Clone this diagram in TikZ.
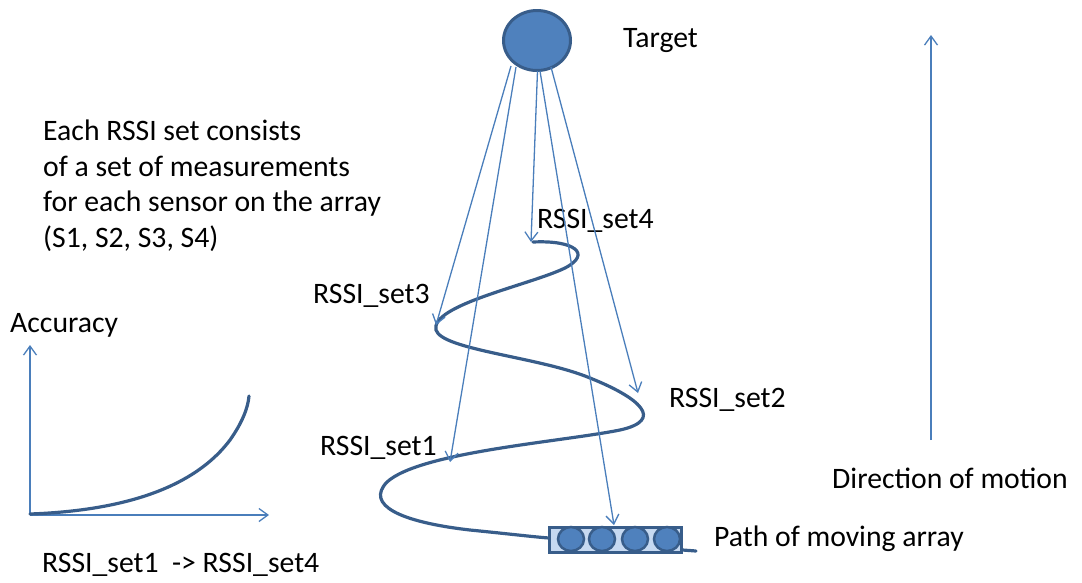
\documentclass[tikz,border=0pt]{standalone}
\usepackage{fontspec}
\setmainfont{Carlito}
\usetikzlibrary{arrows.meta,shapes.geometric}
\definecolor{lblue}{HTML}{4A7EBB}
\definecolor{fillblue}{HTML}{4F81BD}
\definecolor{dblue}{HTML}{385D8A}
\definecolor{pale}{HTML}{C6D9F1}
\tikzset{
  txt/.style={inner sep=0pt, anchor=base west, font=\fontsize{29.7}{35.5}\selectfont},
  ray/.style={draw=lblue, line width=1.3pt, -{Straight Barb[length=9pt,width=13pt,line width=1.3pt]}},
  thickpath/.style={draw=dblue, line width=3.2pt, line cap=round},
  sensor/.style={ellipse, draw=dblue, fill=fillblue, line width=2.5pt, minimum width=26pt, minimum height=24pt, inner sep=0pt}
}
\begin{document}
\begin{tikzpicture}[x=1pt,y=-1pt]
\useasboundingbox (0,0) rectangle (1082,582);
% target
\node[ellipse, draw=dblue, fill=fillblue, line width=3pt, minimum width=67pt, minimum height=60pt, inner sep=0pt] (target) at (537,40.5) {};
\node[txt] (tlabel) at (623,47) {Target};
% paragraph
\node[txt, align=left] (para) at (43,247) {Each RSSI set consists\\of a set of measurements\\for each sensor on the array\\(S1, S2, S3, S4)};
% labels
\node[txt] (l4) at (537,228) {RSSI\_set4};
\node[txt] (l3) at (313,303) {RSSI\_set3};
\node[txt] (l2) at (669,407) {RSSI\_set2};
\node[txt] (l1) at (320,455) {RSSI\_set1};
\node[txt] (acc) at (10,332) {Accuracy};
\node[txt] (xlab) at (42,572) {RSSI\_set1\ \ -> RSSI\_set4};
\node[txt] (dir) at (832,488) {Direction of motion};
\node[txt] (path) at (714,546) {Path of moving array};
% spiral path of the array
\draw[thickpath] (533,242)
  .. controls (575,240) and (592,254) .. (565,268)
  .. controls (530,285) and (430,305) .. (436,330)
  .. controls (442,350) and (540,357) .. (590,378)
  .. controls (640,398) and (665,420) .. (620,430)
  .. controls (560,442) and (420,452) .. (387,482)
  .. controls (365,505) and (400,522) .. (470,530)
  .. controls (510,534) and (535,537) .. (549,538);
% moving array
\node[draw=dblue, fill=pale, line width=3pt, minimum width=132pt, minimum height=25pt, inner sep=0pt] (array) at (615,539.5) {};
\node[sensor] (s1) at (571,539) {};
\node[sensor] (s2) at (602,539) {};
\node[sensor] (s3) at (635,539) {};
\node[sensor] (s4) at (667,539) {};
\coordinate (tail) at (696,551);
\draw[thickpath] (array.east |- 0,550) -- (tail);
% rays from target
\coordinate (a1) at (511,66);
\coordinate (a2) at (516,67);
\coordinate (a3) at (537.5,71);
\coordinate (a4) at (540,71);
\coordinate (a5) at (551,67);
\coordinate (e3) at (436,325);
\coordinate (e1) at (450,462);
\coordinate (e4) at (531,242);
\coordinate (ea) at (614,525);
\coordinate (e2) at (638,393);
\draw[ray] (a1) -- (e3);
\draw[ray] (a2) -- (e1);
\draw[ray] (a3) -- (e4);
\draw[ray] (a4) -- (ea);
\draw[ray] (a5) -- (e2);
% direction of motion
\coordinate (d0) at (931,440);
\coordinate (d1) at (931,35);
\draw[ray] (d0) -- (d1);
% accuracy plot
\coordinate (o) at (30,515);
\coordinate (yend) at (30,345);
\coordinate (xend) at (269,515);
\draw[ray] (o) -- (yend);
\draw[ray] (o) -- (xend);
\draw[thickpath] (30,514) .. controls (140,510) and (200,480) .. (230,440)
  .. controls (242,423) and (248,408) .. (249,396);
\end{tikzpicture}
\end{document}
